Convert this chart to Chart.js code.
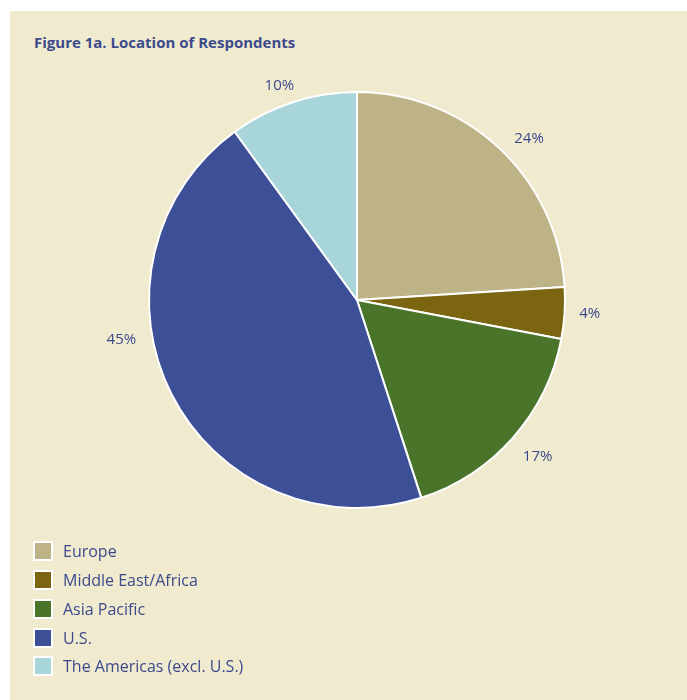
<!DOCTYPE html>
<html>
<head>
<meta charset="utf-8">
<script src="https://cdn.jsdelivr.net/npm/chart.js@4"></script>
<style>
  html, body { margin: 0; padding: 0; background: #ffffff; }
  #panel {
    position: absolute; left: 10px; top: 11px; width: 677px; height: 689px;
    background: #f0eacf; font-family: "Open Sans", sans-serif; color: #3c4a8c;
  }
  #titulo {
    position: absolute; left: 24px; top: 21px; margin: 0;
    font-size: 15px; font-weight: bold;
  }
  #lienzo { position: absolute; left: 87px; top: 29px; width: 520px; height: 520px; }
  #leyenda { position: absolute; left: 23px; top: 526px; list-style: none; margin: 0; padding: 0; }
  #leyenda li { height: 28.75px; display: flex; align-items: center; font-size: 16px; }
  #leyenda span.caja {
    width: 16px; height: 16px; border: 2px solid #ffffff; margin-right: 10px;
  }
</style>
</head>
<body>
<div id="panel">
  <h1 id="titulo">Figure 1a. Location of Respondents</h1>
  <div id="lienzo"><canvas id="grafico"></canvas></div>
  <ul id="leyenda"></ul>
</div>
<script>
const regiones = ['Europe', 'Middle East/Africa', 'Asia Pacific', 'U.S.', 'The Americas (excl. U.S.)'];
const porcentajes = [24, 4, 17, 45, 10];
const colores = ['#bdb386', '#7c6511', '#4a742a', '#3d4f97', '#a8d5d9'];

// etiquetas de porcentaje fuera de cada sector; giro (grados) y separacion retocados a mano
const etiquetasFuera = {
    id: 'etiquetasFuera',
    afterDatasetsDraw(chart, args, opts) {
        const ctx = chart.ctx;
        const arcos = chart.getDatasetMeta(0).data;
        ctx.save();
        ctx.font = '15px "Open Sans", sans-serif';
        ctx.fillStyle = '#3c4a8c';
        ctx.textAlign = 'center';
        ctx.textBaseline = 'middle';
        arcos.forEach((arco, i) => {
            const medio = (arco.startAngle + arco.endAngle) / 2 + opts.giro[i] * Math.PI / 180;
            const r = arco.outerRadius + opts.separacion[i];
            ctx.fillText(porcentajes[i] + '%', arco.x + Math.cos(medio) * r, arco.y + Math.sin(medio) * r);
        });
        ctx.restore();
    }
};

new Chart(document.getElementById('grafico').getContext('2d'), {
    type: 'pie',
    data: {
        labels: regiones,
        datasets: [{
            data: porcentajes,
            backgroundColor: colores,
            borderColor: '#ffffff',
            borderWidth: 2
        }]
    },
    options: {
        responsive: true,
        maintainAspectRatio: false,
        animation: false,
        layout: { padding: 51 },
        plugins: {
            legend: { display: false },
            tooltip: { enabled: false },
            etiquetasFuera: {
                giro: [3.6, -0.3, -0.5, 17.4, -1.9],
                separacion: [28, 25, 31, 31, 20]
            }
        }
    },
    plugins: [etiquetasFuera]
});

const leyenda = document.getElementById('leyenda');
regiones.forEach((nombre, i) => {
    const li = document.createElement('li');
    li.innerHTML = `<span class="caja" style="background:${colores[i]}"></span>${nombre}`;
    leyenda.appendChild(li);
});
</script>
</body>
</html>
